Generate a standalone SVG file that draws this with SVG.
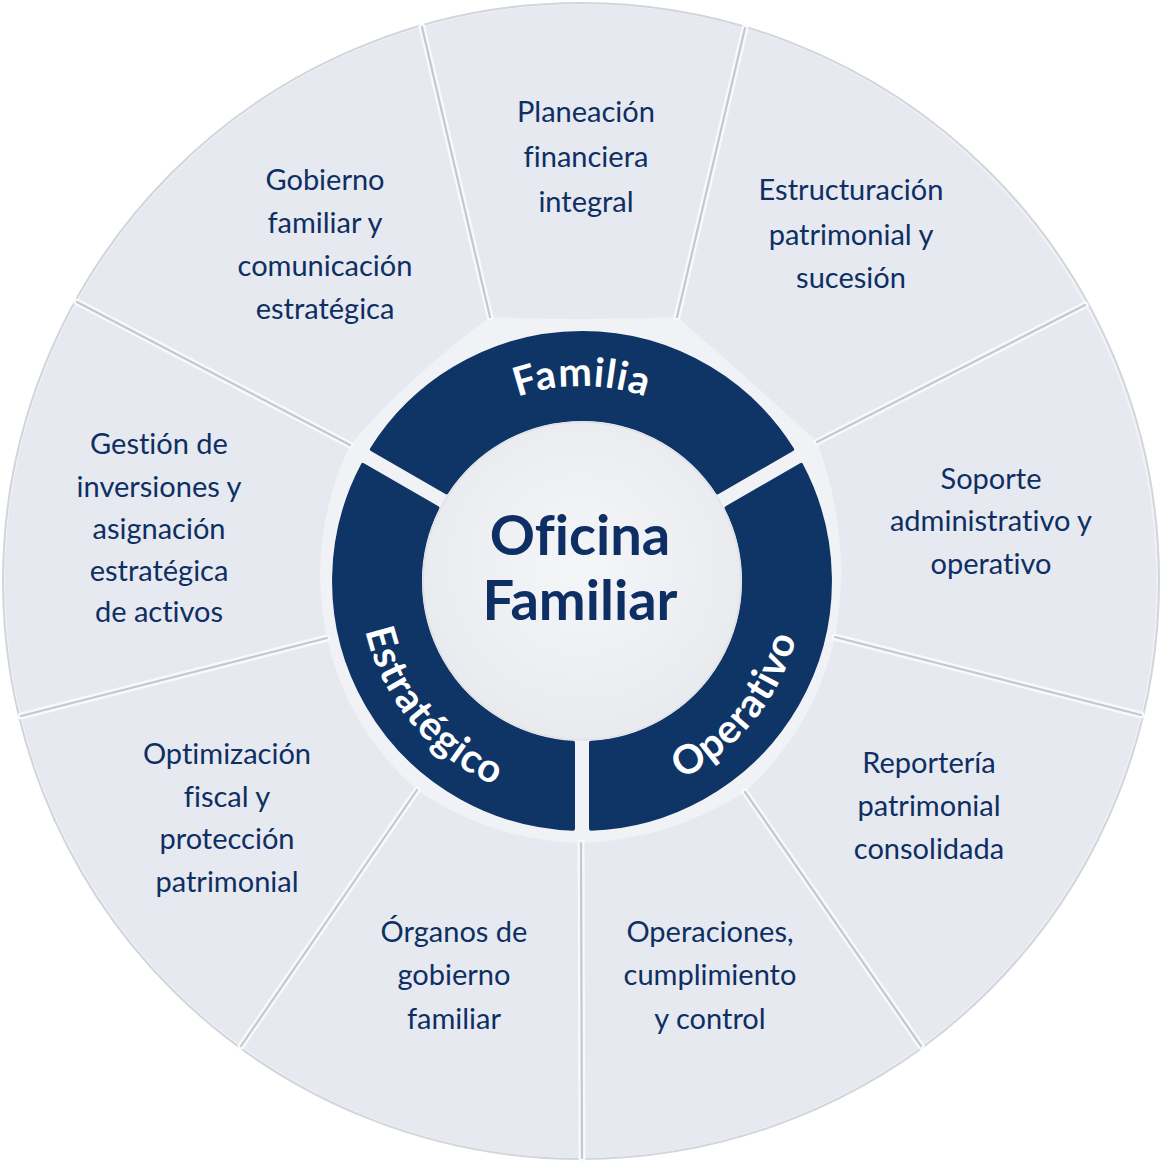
<svg xmlns="http://www.w3.org/2000/svg" width="1162" height="1162" viewBox="0 0 1162 1162">
<defs>
<style>
text{font-variant-ligatures:none;font-feature-settings:"liga" 0,"clig" 0;}
.seg{fill:#e6e9ef;}
.lbl{font-family:Lato,"Open Sans","Liberation Sans",sans-serif;font-size:29px;fill:#0e2f63;text-anchor:middle;}
.ring{fill:#0f3466;stroke:#0f3466;stroke-width:4;stroke-linejoin:round;}
.rlbl{font-family:Lato,"Open Sans","Liberation Sans",sans-serif;font-size:40px;font-weight:700;fill:#ffffff;letter-spacing:1px;}
.div-w{stroke:#f8f9fb;stroke-width:7;stroke-linecap:round;fill:none;}
.div-g{stroke:#c4c8cf;stroke-width:2.2;stroke-linecap:round;fill:none;}
.ctr{font-family:Lato,"Open Sans","Liberation Sans",sans-serif;font-size:56px;font-weight:700;fill:#0d2f63;text-anchor:middle;}
</style>
<radialGradient id="cg" cx="50%" cy="45%" r="55%">
<stop offset="0" stop-color="#f5f6f8"/>
<stop offset="1" stop-color="#e8eaee"/>
</radialGradient>
<path id="arcTop" d="M 387 581 A 195 195 0 0 1 777 581"/>
<path id="arcOp" d="M 457.9 765 A 222 222 0 0 0 736.2 421.3"/>
<path id="arcEs" d="M 425 424 A 222 222 0 0 0 709.3 762.9"/>
</defs>

<circle cx="581" cy="581" r="578" fill="#f1f2f5" stroke="#d2d5db" stroke-width="2"/>

<g id="seg-planeacion">
<path class="seg" d="M 490 317 L 422 27 A 577 577 0 0 1 745 28 L 677 317 Q 583.1 321 490 317 Z"/>
<text class="lbl" x="586" y="122">Planeación</text>
<text class="lbl" x="586" y="167">financiera</text>
<text class="lbl" x="586" y="212">integral</text>
</g>
<g id="seg-estructuracion">
<path class="seg" d="M 677 317 L 745 28 A 577 577 0 0 1 1085 305 L 817 442 Q 750 379.7 677 317 Z"/>
<text class="lbl" x="851" y="200">Estructuración</text>
<text class="lbl" x="851" y="245">patrimonial y</text>
<text class="lbl" x="851" y="288">sucesión</text>
</g>
<g id="seg-soporte">
<path class="seg" d="M 817 442 L 1085 305 A 577 577 0 0 1 1141 715 L 835 637 Q 853.4 540.1 817 442 Z"/>
<text class="lbl" x="991" y="489">Soporte</text>
<text class="lbl" x="991" y="531">administrativo y</text>
<text class="lbl" x="991" y="574">operativo</text>
</g>
<g id="seg-reporteria">
<path class="seg" d="M 835 637 L 1141 715 A 577 577 0 0 1 921 1046 L 745 792 Q 815.2 727.1 835 637 Z"/>
<text class="lbl" x="929" y="773">Reportería</text>
<text class="lbl" x="929" y="816">patrimonial</text>
<text class="lbl" x="929" y="859">consolidada</text>
</g>
<g id="seg-operaciones">
<path class="seg" d="M 745 792 L 921 1046 A 577 577 0 0 1 582 1158 L 581 843 Q 669.2 840.1 745 792 Z"/>
<text class="lbl" x="710" y="942">Operaciones,</text>
<text class="lbl" x="710" y="985">cumplimiento</text>
<text class="lbl" x="710" y="1029">y control</text>
</g>
<g id="seg-organos">
<path class="seg" d="M 581 843 L 582 1158 A 577 577 0 0 1 241 1046 L 417 790 Q 492 840.9 581 843 Z"/>
<text class="lbl" x="454" y="942">Órganos de</text>
<text class="lbl" x="454" y="985">gobierno</text>
<text class="lbl" x="454" y="1029">familiar</text>
</g>
<g id="seg-optimizacion">
<path class="seg" d="M 417 790 L 241 1046 A 577 577 0 0 1 21 716 L 327 638 Q 346.8 727.6 417 790 Z"/>
<text class="lbl" x="227" y="764">Optimización</text>
<text class="lbl" x="227" y="807">fiscal y</text>
<text class="lbl" x="227" y="849">protección</text>
<text class="lbl" x="227" y="892">patrimonial</text>
</g>
<g id="seg-gestion">
<path class="seg" d="M 327 638 L 21 716 A 577 577 0 0 1 77 302 L 350 445 Q 305.9 538.9 327 638 Z"/>
<text class="lbl" x="159" y="454">Gestión de</text>
<text class="lbl" x="159" y="497">inversiones y</text>
<text class="lbl" x="159" y="539">asignación</text>
<text class="lbl" x="159" y="581">estratégica</text>
<text class="lbl" x="159" y="622">de activos</text>
</g>
<g id="seg-gobierno">
<path class="seg" d="M 350 445 L 77 302 A 577 577 0 0 1 422 27 L 490 317 Q 410.6 375.2 350 445 Z"/>
<text class="lbl" x="325" y="190">Gobierno</text>
<text class="lbl" x="325" y="233">familiar y</text>
<text class="lbl" x="325" y="276">comunicación</text>
<text class="lbl" x="325" y="319">estratégica</text>
</g>

<g id="dividers">
<g class="div-w">
<line x1="490" y1="317" x2="422" y2="27"/>
<line x1="677" y1="317" x2="745" y2="28"/>
<line x1="817" y1="442" x2="1085" y2="305"/>
<line x1="835" y1="637" x2="1141" y2="715"/>
<line x1="745" y1="792" x2="921" y2="1046"/>
<line x1="581" y1="843" x2="582" y2="1158"/>
<line x1="417" y1="790" x2="241" y2="1046"/>
<line x1="327" y1="638" x2="21" y2="716"/>
<line x1="350" y1="445" x2="77" y2="302"/>
</g>
<g class="div-g">
<line x1="490" y1="317" x2="422" y2="27"/>
<line x1="677" y1="317" x2="745" y2="28"/>
<line x1="817" y1="442" x2="1085" y2="305"/>
<line x1="835" y1="637" x2="1141" y2="715"/>
<line x1="745" y1="792" x2="921" y2="1046"/>
<line x1="581" y1="843" x2="582" y2="1158"/>
<line x1="417" y1="790" x2="241" y2="1046"/>
<line x1="327" y1="638" x2="21" y2="716"/>
<line x1="350" y1="445" x2="77" y2="302"/>
</g>
</g>

<g id="ring-familia">
<path class="ring" d="M 371.9 449.3 A 248 248 0 0 1 792.1 449.3 L 717.6 492.3 A 162 162 0 0 0 446.4 492.3 Z"/>
<text class="rlbl"><textPath href="#arcTop" startOffset="50%" text-anchor="middle">Familia</textPath></text>
</g>
<g id="ring-operativo">
<path class="ring" d="M 801.1 464.9 A 248 248 0 0 1 591 828.8 L 591 742.8 A 162 162 0 0 0 726.6 507.9 Z"/>
<text class="rlbl"><textPath href="#arcOp" startOffset="50%" text-anchor="middle">Operativo</textPath></text>
</g>
<g id="ring-estrategico">
<path class="ring" d="M 573 828.8 A 248 248 0 0 1 362.9 464.9 L 437.4 507.9 A 162 162 0 0 0 573 742.8 Z"/>
<text class="rlbl"><textPath href="#arcEs" startOffset="50%" text-anchor="middle">Estratégico</textPath></text>
</g>

<g id="center">
<circle cx="582" cy="581" r="159" fill="url(#cg)" stroke="#dde0e5" stroke-width="1.5"/>
<text class="ctr" x="580" y="555">Oficina</text>
<text class="ctr" x="580" y="620">Familiar</text>
</g>
</svg>
